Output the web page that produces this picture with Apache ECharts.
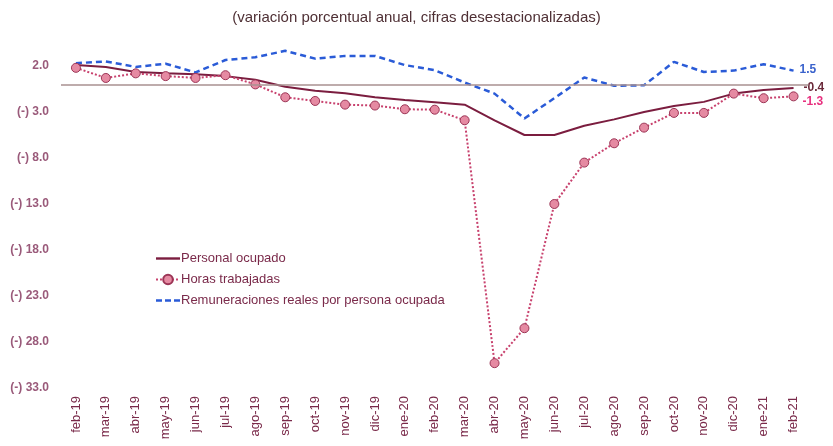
<!DOCTYPE html>
<html>
<head>
<meta charset="utf-8">
<script src="https://cdn.jsdelivr.net/npm/echarts@6/dist/echarts.min.js"></script>
<style>html,body{margin:0;padding:0;background:#fff;}#c{width:833px;height:446px;}</style>
</head>
<body>
<div id="c"></div>
<script>
const categories = ['feb-19','mar-19','abr-19','may-19','jun-19','jul-19','ago-19','sep-19','oct-19','nov-19','dic-19','ene-20','feb-20','mar-20','abr-20','may-20','jun-20','jul-20','ago-20','sep-20','oct-20','nov-20','dic-20','ene-21','feb-21'];
const personalOcupado = [2.1,1.9,1.35,1.2,1.1,0.9,0.5,-0.25,-0.7,-0.95,-1.4,-1.7,-1.95,-2.2,-3.9,-5.5,-5.5,-4.5,-3.8,-3.0,-2.35,-1.9,-1.0,-0.6,-0.4];
const horasTrabajadas = [1.8,0.7,1.2,0.9,0.7,1.0,0.0,-1.4,-1.8,-2.2,-2.3,-2.7,-2.75,-3.9,-30.3,-26.5,-13.0,-8.5,-6.4,-4.7,-3.1,-3.1,-1.0,-1.5,-1.3];
const remuneraciones = [2.3,2.5,1.9,2.25,1.3,2.65,2.95,3.65,2.8,3.1,3.1,2.1,1.55,0.2,-1.0,-3.7,-1.5,0.75,-0.15,-0.1,2.45,1.35,1.5,2.2,1.5];
const titleText = '(variación porcentual anual, cifras desestacionalizadas)';
const seriesNames = ['Personal ocupado','Horas trabajadas','Remuneraciones reales por persona ocupada'];

function endLabel(color, dx, dy){
  return {
    show: true,
    distance: 6,
    offset: [dx, dy],
    color: color,
    fontWeight: 'bold',
    fontSize: 12,
    fontFamily: 'Liberation Sans, sans-serif',
    formatter: function(p){ return Number(p.value).toFixed(1); }
  };
}

const chart = echarts.init(document.getElementById('c'));
chart.setOption({
  animation: false,
  backgroundColor: '#ffffff',
  title: {
    text: titleText,
    left: 'center',
    top: 5,
    textStyle: {color: '#4f3035', fontSize: 15, fontWeight: 'normal', fontFamily: 'Liberation Sans Narrow, Liberation Sans, sans-serif'}
  },
  legend: {
    orient: 'vertical',
    left: 150,
    top: 247,
    itemGap: 8,
    itemWidth: 24,
    itemHeight: 12,
    symbolKeepAspect: true,
    data: [
      {name: seriesNames[0], icon: 'path://M0,0h24v2.4h-24z'},
      {name: seriesNames[1]},
      {name: seriesNames[2], icon: 'path://M0,0h6v2.4h-6z M9,0h6v2.4h-6z M18,0h6v2.4h-6z'}
    ],
    textStyle: {color: '#7a2a4a', fontSize: 13, fontFamily: 'Liberation Sans, sans-serif', padding: [0,0,0,-4]}
  },
  grid: {left: 61, right: 24.5, top: 47.6, bottom: 58, containLabel: false},
  xAxis: {
    type: 'category',
    data: categories,
    boundaryGap: true,
    axisLine: {show: false},
    axisTick: {show: false},
    axisLabel: {rotate: 90, color: '#7a2a4a', fontSize: 13, margin: 8, interval: 0, fontFamily: 'Liberation Sans, sans-serif'},
    splitLine: {show: false}
  },
  yAxis: {
    type: 'value',
    min: -33,
    max: 4,
    interval: 5,
    axisLine: {show: false},
    axisTick: {show: false},
    splitLine: {show: false},
    axisLabel: {
      showMaxLabel: false,
      color: '#9a5a7a',
      fontSize: 12,
      fontWeight: 'bold',
      margin: 12,
      fontFamily: 'Liberation Sans, sans-serif',
      formatter: function(v){ if (v > 3) return ''; return v < 0 ? '(-) ' + Math.abs(v).toFixed(1) : v.toFixed(1); }
    }
  },
  series: [
    {
      name: seriesNames[0],
      type: 'line',
      data: personalOcupado,
      symbol: 'none',
      z: 3,
      lineStyle: {color: '#7b1d3f', width: 2},
      itemStyle: {color: '#7b1d3f'},
      endLabel: endLabel('#6b2a3a', 4, 0),
      markLine: {
        silent: true,
        symbol: 'none',
        label: {show: false},
        lineStyle: {color: '#a89090', width: 1.5, type: 'solid'},
        data: [{yAxis: 0}]
      }
    },
    {
      name: seriesNames[1],
      type: 'line',
      data: horasTrabajadas,
      symbol: 'circle',
      symbolSize: 9,
      z: 4,
      lineStyle: {color: '#c8426e', width: 2, type: 'dotted'},
      itemStyle: {color: '#e58aa2', borderColor: '#9c3556', borderWidth: 1},
      endLabel: endLabel('#e8307f', 3, 5)
    },
    {
      name: seriesNames[2],
      type: 'line',
      data: remuneraciones,
      symbol: 'none',
      z: 2,
      lineStyle: {color: '#2a5bd7', width: 2.5, type: [6, 4]},
      itemStyle: {color: '#2a5bd7'},
      endLabel: endLabel('#3a62cc', 0, -1)
    }
  ]
});
</script>
</body>
</html>
